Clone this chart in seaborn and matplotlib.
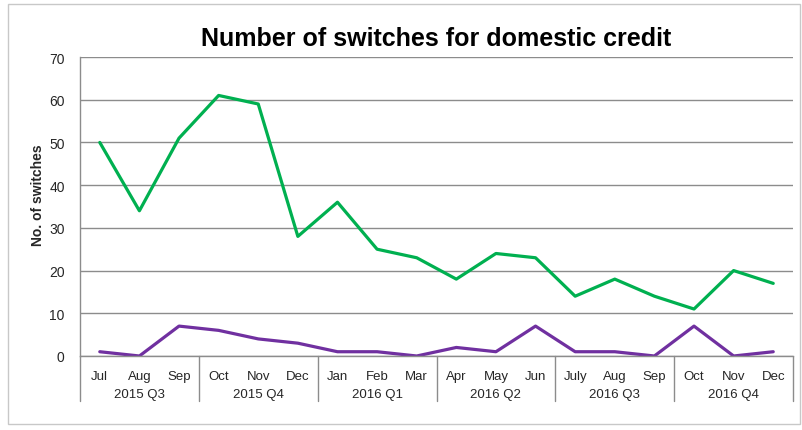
import numpy as np
import pandas as pd
import matplotlib
matplotlib.use("Agg")
import matplotlib.pyplot as plt
import seaborn as sns
from matplotlib.patches import Rectangle

# data
months = ["Jul", "Aug", "Sep", "Oct", "Nov", "Dec",
          "Jan", "Feb", "Mar", "Apr", "May", "Jun",
          "July", "Aug", "Sep", "Oct", "Nov", "Dec"]
quarters = ["2015 Q3", "2015 Q4", "2016 Q1", "2016 Q2", "2016 Q3", "2016 Q4"]
green_values = [50, 34, 51, 61, 59, 28, 36, 25, 23, 18, 24, 23, 14, 18, 14, 11, 20, 17]
purple_values = [1, 0, 7, 6, 4, 3, 1, 1, 0, 2, 1, 7, 1, 1, 0, 7, 0, 1]

green = "#00b050"
purple = "#7030a0"

sns.set_style("white")
plt.rcParams["font.family"] = ["Liberation Sans", "DejaVu Sans"]

df = pd.DataFrame({
    "idx": list(range(len(months))) * 2,
    "value": green_values + purple_values,
    "series": ["green"] * len(months) + ["purple"] * len(months),
})

fig = plt.figure(figsize=(8.03, 4.31), dpi=100)
ax = fig.add_axes([0.0996, 0.1717, 0.8880, 0.6937])

sns.lineplot(data=df, x="idx", y="value", hue="series",
             palette={"green": green, "purple": purple},
             linewidth=2.3, legend=False, ax=ax)

ax.set_xlim(-0.5, len(months) - 0.5)
ax.set_ylim(0, 70)
ax.set_yticks(np.arange(0, 71, 10))
ax.yaxis.grid(True, color="#8c8c8c", linewidth=1)
ax.set_axisbelow(True)
for s in ["top", "right"]:
    ax.spines[s].set_visible(False)
for s in ["left", "bottom"]:
    ax.spines[s].set_color("#8c8c8c")
    ax.spines[s].set_linewidth(1)

ax.set_xticks(range(len(months)))
ax.set_xticklabels(months)
ax.tick_params(axis="x", length=0, pad=10, labelsize=9.5, labelcolor="#262626")
ax.tick_params(axis="y", length=0, pad=11, labelsize=10, labelcolor="#262626")
ax.set_xlabel("")
ax.set_ylabel("No. of switches", fontsize=10, fontweight="bold")
ax.yaxis.set_label_coords(-0.049, 0.54)

# multi-level category axis: group separators and quarter labels
trans = ax.get_xaxis_transform()
for k in range(len(quarters) + 1):
    xb = k * 3 - 0.5
    ax.plot([xb, xb], [0, -0.15], transform=trans, color="#8c8c8c",
            linewidth=1, clip_on=False)
for k, q in enumerate(quarters):
    ax.text(k * 3 + 1, -0.127, q, transform=trans, ha="center", va="center",
            fontsize=9.5, color="#262626")

ax.text(0.5, 1.062, "Number of switches for domestic credit", transform=ax.transAxes,
        ha="center", va="center", fontsize=18, fontweight="bold", color="black")

# light frame round the chart
fig.patches.append(Rectangle((0.010, 0.014), 0.986, 0.975, transform=fig.transFigure,
                             fill=False, edgecolor="#c8c8c8", linewidth=1))

fig.savefig("out.png", dpi=100)
